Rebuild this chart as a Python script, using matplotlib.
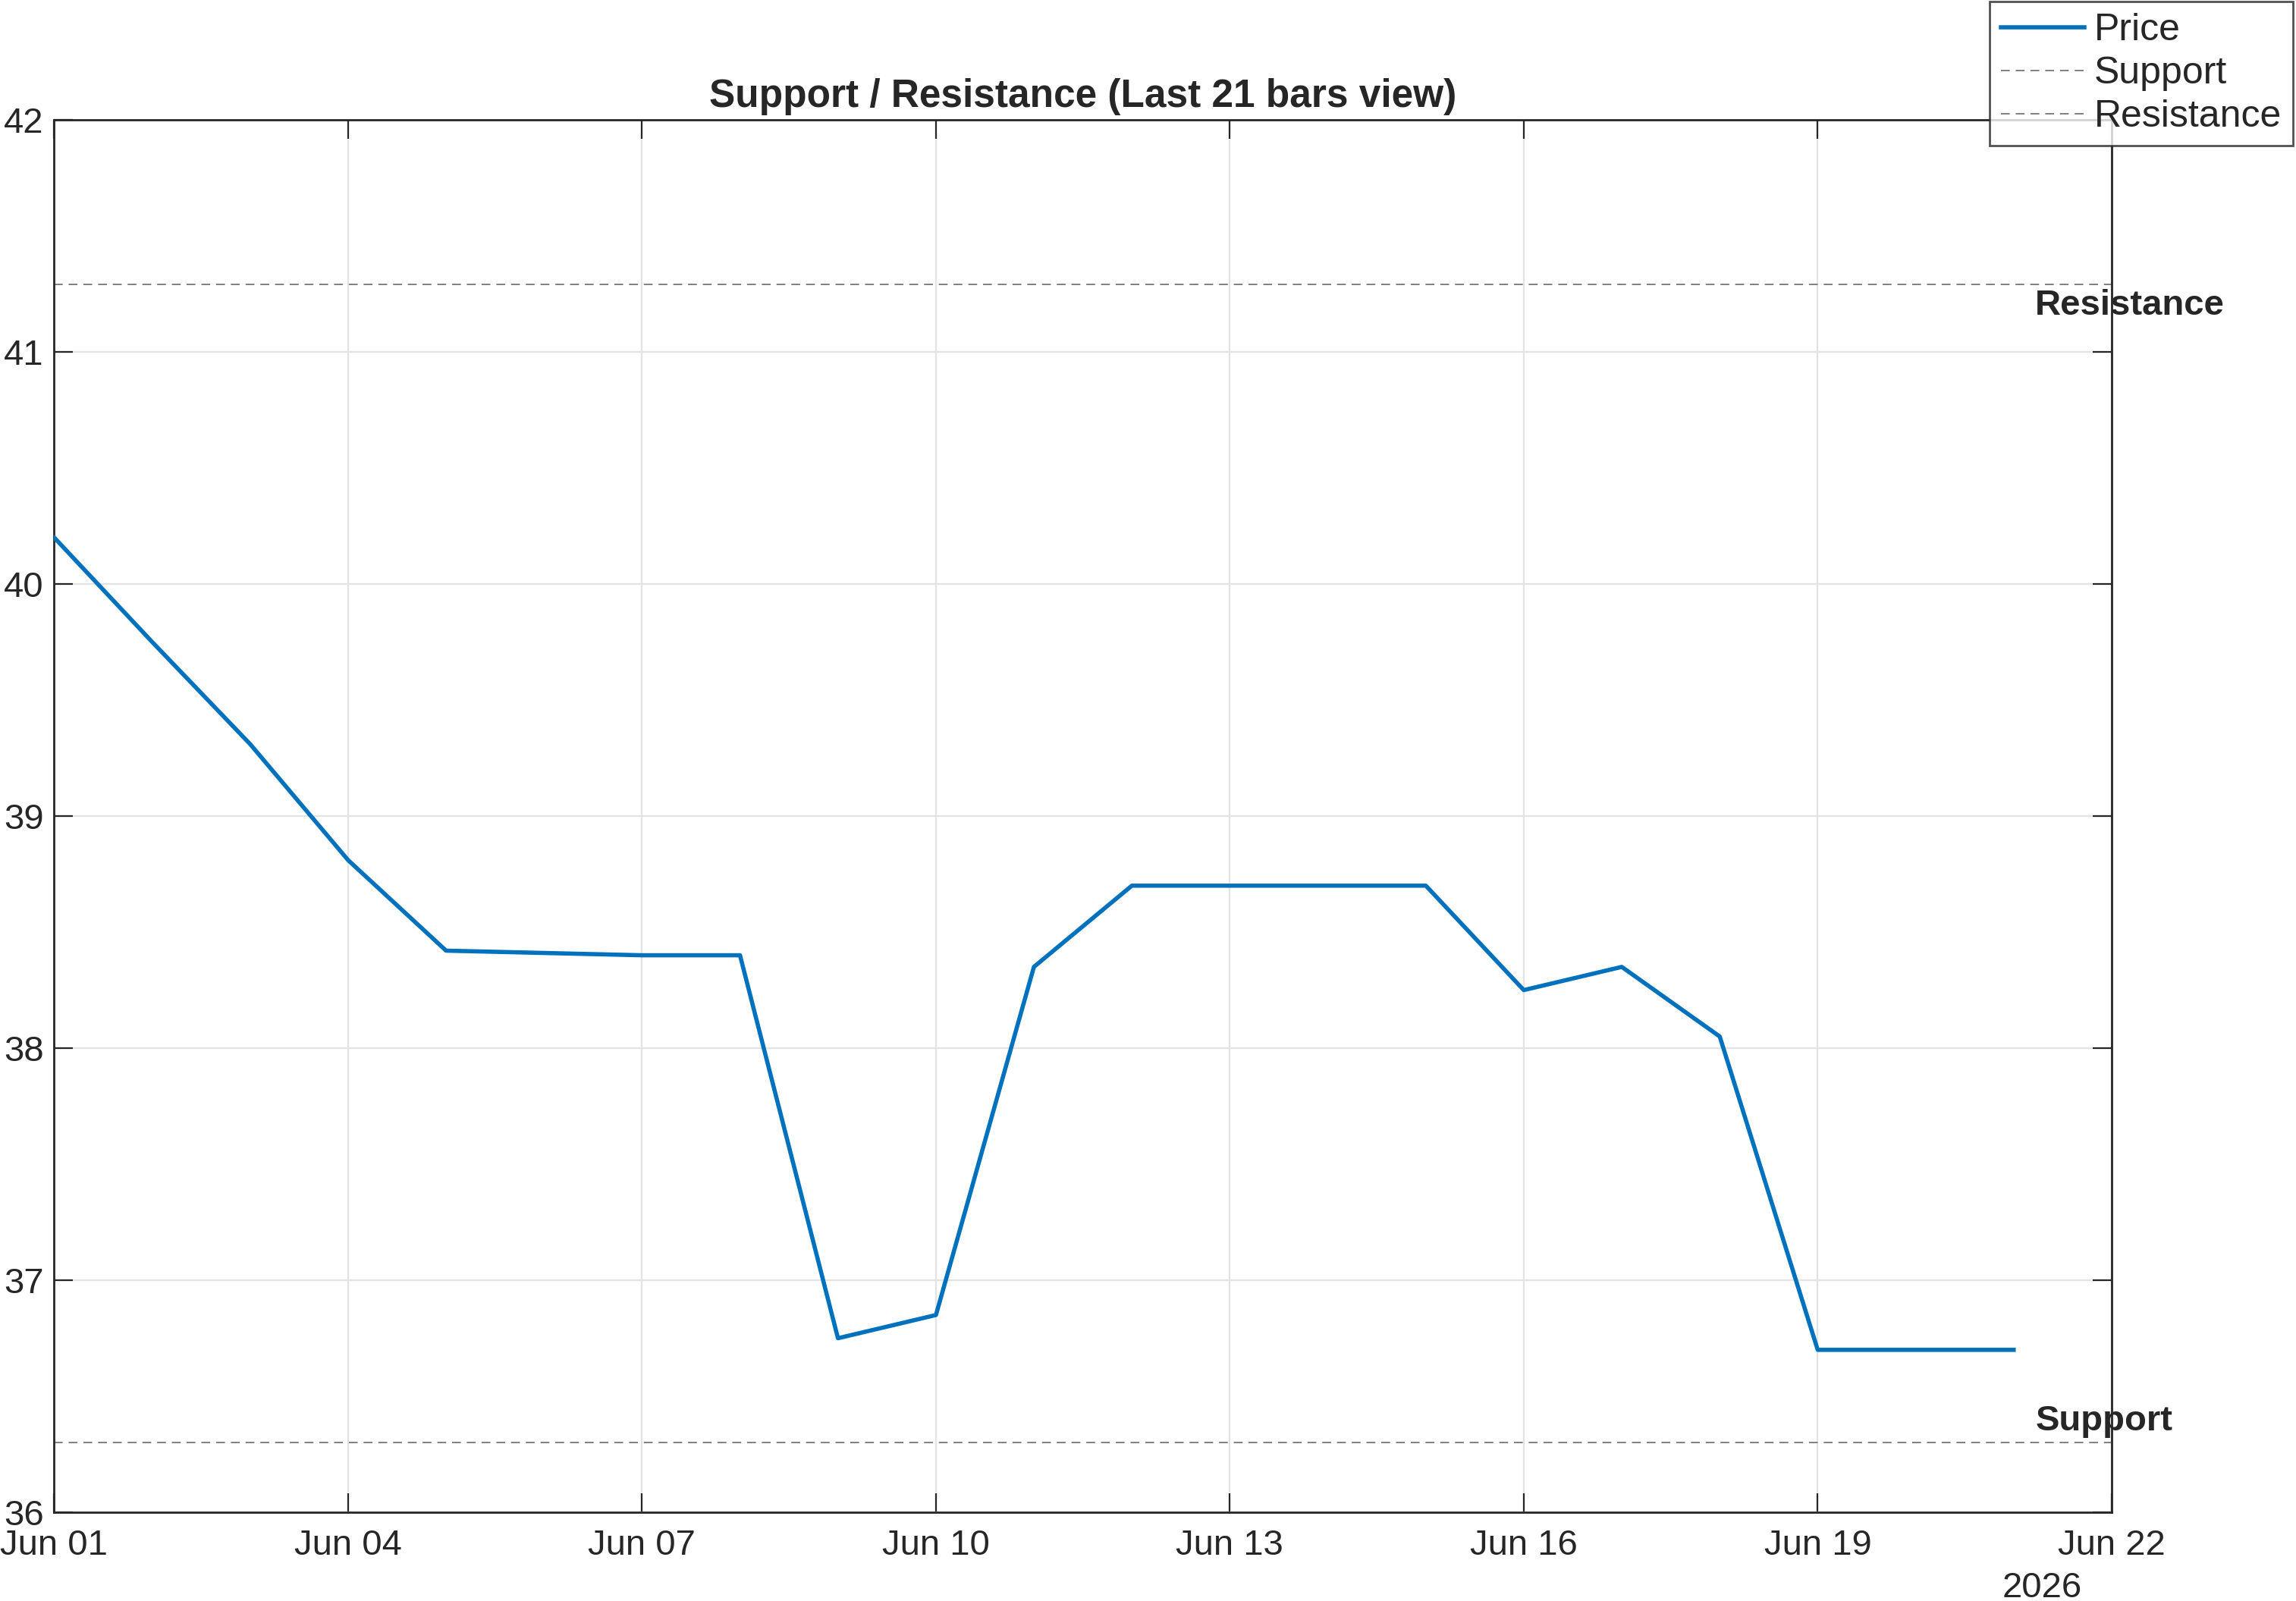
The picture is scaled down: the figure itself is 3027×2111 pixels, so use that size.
import matplotlib
matplotlib.use("Agg")
import matplotlib.pyplot as plt
import matplotlib.dates as mdates
import numpy as np
import datetime as dt

plt.rcParams['font.family'] = ['Liberation Sans', 'DejaVu Sans']

# --- data ---
dates = [dt.datetime(2026, 6, d) for d in range(1, 22)]
price = [40.20, 39.75, 39.31, 38.81, 38.42, 38.41, 38.40, 38.40, 36.75, 36.85,
         38.35, 38.70, 38.70, 38.70, 38.70, 38.25, 38.35, 38.05, 36.70, 36.70, 36.70]
support = 36.30
resistance = 41.29
x_start = dt.datetime(2026, 6, 1)
x_end = dt.datetime(2026, 6, 22)
y_ticks = [36, 37, 38, 39, 40, 41, 42]

dark = '#262626'
blue = '#0072BD'
gray = '#808080'
fs = 17

fig = plt.figure(figsize=(3027 / 200, 2111 / 200), dpi=200)
ax = fig.add_axes([0.0236, 0.0554, 0.9197 - 0.0236, 0.9252 - 0.0554])

ax.plot(dates, price, color=blue, lw=2.0, label='Price', zorder=3)
ax.axhline(support, color=gray, lw=0.7, ls=(0, (6, 4)), label='Support')
ax.axhline(resistance, color=gray, lw=0.7, ls=(0, (6, 4)), label='Resistance')

lbl_x = x_end - dt.timedelta(days=0.78)
ax.text(lbl_x, resistance - 0.02, 'Resistance', fontsize=17, fontweight='bold',
        color=dark, va='top', ha='left', clip_on=False)
ax.text(lbl_x, support + 0.02, 'Support', fontsize=17, fontweight='bold',
        color=dark, va='bottom', ha='left', clip_on=False)

ax.set_xlim(x_start, x_end)
ax.set_ylim(36, 42)
ax.set_yticks(y_ticks)
ax.xaxis.set_major_locator(mdates.DayLocator(bymonthday=[1, 4, 7, 10, 13, 16, 19, 22]))
ax.xaxis.set_major_formatter(mdates.DateFormatter('%b %d'))

ax.grid(True, color='#e3e3e3', lw=0.8)
ax.set_axisbelow(True)
for s in ax.spines.values():
    s.set_color(dark)
    s.set_linewidth(1.0)
ax.tick_params(direction='in', length=9, width=0.8, color=dark, labelcolor=dark,
               labelsize=fs, top=True, right=True)
ax.tick_params(axis='x', pad=8)
ax.tick_params(axis='y', pad=5)

ax.set_title('Support / Resistance (Last 21 bars view)', fontsize=18.5,
             fontweight='bold', color=dark, pad=6)

fig.text(2745 / 3027, 1 - 2094 / 2111, '2026', fontsize=fs, color=dark,
         ha='right', va='center')

leg = fig.legend(loc='upper right', bbox_to_anchor=(3023 / 3027, 1 - 2 / 2111),
                 fontsize=18, frameon=True, fancybox=False, borderaxespad=0,
                 handlelength=2.2, handletextpad=0.25, borderpad=0.3,
                 labelspacing=0.22)
leg.get_frame().set_edgecolor(dark)
leg.get_frame().set_linewidth(1.0)
for t in leg.get_texts():
    t.set_color(dark)

fig.savefig('out.png', dpi=200, facecolor='white')
